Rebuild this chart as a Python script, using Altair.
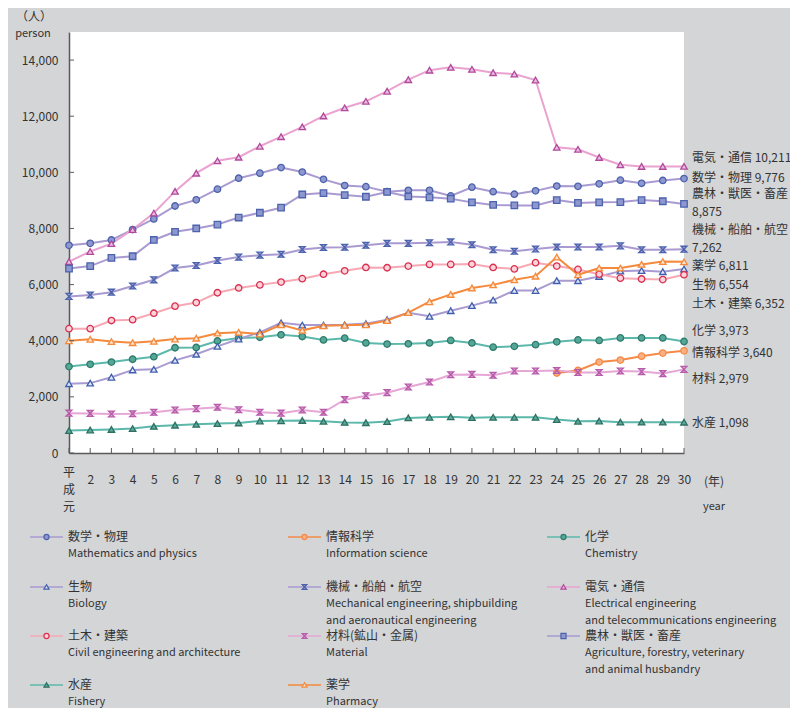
import altair as alt
import pandas as pd

# ---------------- data ----------------
years = list(range(1, 31))
series = ["数学・物理", "情報科学", "化学", "生物", "機械・船舶・航空", "電気・通信",
          "土木・建築", "材料", "農林・獣医・畜産", "水産", "薬学"]

v_math = [7400, 7470, 7590, 7960, 8340, 8800, 9020, 9400, 9790, 9970, 10170, 10010, 9750, 9530, 9490,
          9310, 9360, 9360, 9160, 9470, 9310, 9220, 9340, 9510, 9500, 9590, 9720, 9610, 9710, 9776]
v_info_years = list(range(24, 31))
v_info = [2850, 2940, 3240, 3310, 3450, 3560, 3640]
v_chem = [3080, 3160, 3240, 3340, 3430, 3750, 3760, 3990, 4100, 4120, 4210, 4150, 4030, 4090, 3920,
          3880, 3890, 3920, 4010, 3920, 3770, 3800, 3860, 3960, 4030, 4010, 4100, 4100, 4100, 3973]
v_bio = [2470, 2490, 2700, 2960, 2980, 3300, 3520, 3800, 4060, 4300, 4640, 4560, 4560, 4570, 4610,
         4750, 5000, 4870, 5070, 5250, 5450, 5790, 5790, 6140, 6140, 6290, 6480, 6500, 6460, 6554]
v_mech = [5580, 5630, 5730, 5950, 6170, 6590, 6680, 6860, 6980, 7050, 7080, 7250, 7320, 7330, 7400,
          7470, 7470, 7490, 7520, 7420, 7240, 7190, 7270, 7340, 7340, 7340, 7380, 7240, 7240, 7262]
v_elec = [6820, 7180, 7460, 7960, 8550, 9320, 9970, 10410, 10540, 10930, 11270, 11620, 12010, 12300, 12530,
          12890, 13300, 13640, 13740, 13670, 13550, 13500, 13290, 10890, 10820, 10530, 10270, 10210, 10210, 10211]
v_civil = [4430, 4430, 4720, 4750, 4980, 5230, 5360, 5710, 5880, 5990, 6090, 6210, 6370, 6490, 6610,
           6600, 6660, 6720, 6720, 6730, 6610, 6560, 6780, 6660, 6540, 6370, 6230, 6200, 6180, 6352]
v_mat = [1420, 1410, 1390, 1400, 1450, 1530, 1580, 1630, 1540, 1450, 1420, 1530, 1450, 1900, 2040,
         2150, 2350, 2530, 2790, 2800, 2770, 2920, 2920, 2940, 2870, 2870, 2920, 2900, 2830, 2979]
v_agri = [6570, 6660, 6950, 7010, 7590, 7880, 8000, 8140, 8390, 8560, 8740, 9210, 9260, 9190, 9130,
          9300, 9140, 9110, 9060, 8930, 8840, 8820, 8820, 9010, 8910, 8930, 8940, 9010, 8970, 8875]
v_fish = [800, 820, 840, 870, 950, 990, 1020, 1050, 1070, 1140, 1150, 1160, 1130, 1090, 1080,
          1120, 1250, 1270, 1290, 1260, 1270, 1270, 1270, 1190, 1130, 1140, 1100, 1100, 1100, 1098]
v_pharm = [4000, 4050, 3970, 3930, 3980, 4060, 4090, 4270, 4300, 4240, 4570, 4370, 4530, 4550, 4570,
           4720, 5000, 5390, 5650, 5880, 5990, 6170, 6300, 6980, 6350, 6590, 6590, 6720, 6820, 6811]

series_years = {s: years for s in series}
series_years["情報科学"] = v_info_years
series_values = {
    "数学・物理": v_math, "情報科学": v_info, "化学": v_chem, "生物": v_bio,
    "機械・船舶・航空": v_mech, "電気・通信": v_elec, "土木・建築": v_civil, "材料": v_mat,
    "農林・獣医・畜産": v_agri, "水産": v_fish, "薬学": v_pharm,
}

legend_jp = ["数学・物理", "情報科学", "化学", "生物", "機械・船舶・航空", "電気・通信",
             "土木・建築", "材料(鉱山・金属)", "農林・獣医・畜産", "水産", "薬学"]
legend_en = [["Mathematics and physics"], ["Information science"], ["Chemistry"], ["Biology"],
             ["Mechanical engineering, shipbuilding", "and aeronautical engineering"],
             ["Electrical engineering", "and telecommunications engineering"],
             ["Civil engineering and architecture"], ["Material"],
             ["Agriculture, forestry, veterinary", "and animal husbandry"], ["Fishery"], ["Pharmacy"]]

y_ticks = list(range(0, 15000, 2000))
first_year_label = ["平", "成", "元"]

# ---------------- styles ----------------
line_colors = ["#a99bd2", "#f58a48", "#5cb8ab", "#a99bd2", "#a99bd2", "#eaa2d0",
               "#f6a9b4", "#e6a6d6", "#a99bd2", "#5cb8ab", "#f5893c"]
stroke_colors = ["#4b62ad", "#f58a48", "#2f7b6d", "#3f5fae", "#4b62ad", "#b2499c",
                 "#d9304f", "#b75bab", "#4b62ad", "#2f6f63", "#f5893c"]
fill_colors = ["#8f97cf", "#f9b184", "#55a897", "#e3e6f5", "#9aa3d6", "#e7bfe0",
               "#fbd3da", "#dca7d5", "#8f97cf", "#5aa99b", "#fde3cc"]
hourglass = "M-0.9,-0.9L0.9,-0.9L0,0L0.9,0.9L-0.9,0.9L0,0Z"
shapes = ["circle", "circle", "circle", "triangle-up", hourglass, "triangle-up",
          "circle", hourglass, "square", "triangle-up", "triangle-up"]

FONT = "Noto Sans CJK JP"
NUMFONT = "Liberation Sans Narrow, Noto Sans CJK JP"
TEXT = "#333333"
AXIS = "#5a5a5a"
BG = "#d4d5d7"

W, H = 615, 421
PAD = {"left": 61, "top": 24, "right": 106, "bottom": 255}

# ---------------- tables ----------------
rows = []
for s in series:
    for yr, v in zip(series_years[s], series_values[s]):
        rows.append({"series": s, "year": yr, "value": v})
df = pd.DataFrame(rows)

xscale = alt.Scale(domain=[1, 30], nice=False, zero=False)
yscale = alt.Scale(domain=[0, 15000], nice=False, zero=True)
color_sc = alt.Scale(domain=series, range=line_colors)
stroke_sc = alt.Scale(domain=series, range=stroke_colors)
fill_sc = alt.Scale(domain=series, range=fill_colors)
shape_sc = alt.Scale(domain=series, range=shapes)

xaxis = alt.Axis(values=years, labelExpr="datum.value == 1 ? '' : datum.label",
                 ticks=False, grid=False, domainColor=AXIS, domainWidth=1.5,
                 labelFont=NUMFONT, labelFontSize=12, labelColor=TEXT,
                 labelPadding=21, labelOverlap=False, labelFlush=False,
                 labelAngle=0, title=None)
yaxis = alt.Axis(values=y_ticks, format=",d", ticks=False, grid=False,
                 domainColor=AXIS, domainWidth=1.5, labelFont=FONT,
                 labelFontSize=12, labelColor=TEXT, labelPadding=11, title=None)

# right-hand labels (layout positions in pixels, relative to plot origin)
label_px = {"電気・通信": [126], "数学・物理": [146], "農林・獣医・畜産": [162, 180],
            "機械・船舶・航空": [198, 216], "薬学": [234], "生物": [253], "土木・建築": [272],
            "化学": [299], "情報科学": [321], "材料": [347], "水産": [391]}
rl = []
for s in series:
    last = series_values[s][-1]
    pys = label_px[s]
    if len(pys) == 1:
        rl.append({"text": f"{s} {last:,}", "py": pys[0]})
    else:
        rl.append({"text": s, "py": pys[0]})
        rl.append({"text": f"{last:,}", "py": pys[1]})
rl_df = pd.DataFrame(rl)

# legend layout
col_x = [-39, 219, 478]
row_y = [505, 555, 604, 653]
leg_sym, leg_jp, leg_en = [], [], []
for i, s in enumerate(series):
    r, c = divmod(i, 3)
    x0, y0 = col_x[c], row_y[r]
    leg_sym.append({"series": s, "lx": x0, "lx2": x0 + 33, "sx": x0 + 16.5, "ly": y0})
    leg_jp.append({"text": legend_jp[i], "px": x0 + 38, "py": y0})
    for k, t in enumerate(legend_en[i]):
        leg_en.append({"text": t, "px": x0 + 38, "py": y0 + 17 * (k + 1)})
leg_sym = pd.DataFrame(leg_sym)
leg_jp = pd.DataFrame(leg_jp)
leg_en = pd.DataFrame(leg_en)

# ---------------- layers ----------------
X = alt.X("year:Q", scale=xscale, axis=xaxis)
Y = alt.Y("value:Q", scale=yscale, axis=yaxis)

base = alt.Chart(df)
lines = base.mark_line(strokeWidth=2).encode(
    x=X, y=Y,
    color=alt.Color("series:N", scale=color_sc, legend=None),
    order=alt.Order("year:Q"),
)
points = base.mark_point(filled=True, size=42, strokeWidth=1.3, opacity=1).encode(
    x=X, y=Y,
    shape=alt.Shape("series:N", scale=shape_sc, legend=None),
    fill=alt.Fill("series:N", scale=fill_sc, legend=None),
    stroke=alt.Stroke("series:N", scale=stroke_sc, legend=None),
)

xticks = alt.Chart(pd.DataFrame({"year": years})).mark_rule(color=AXIS, strokeWidth=1).encode(
    x=X, y=alt.value(H), y2=alt.value(H - 5))
yticks = alt.Chart(pd.DataFrame({"value": y_ticks})).mark_rule(color=AXIS, strokeWidth=1).encode(
    y=Y, x=alt.value(0), x2=alt.value(5))

first_lbl = alt.Chart(pd.DataFrame({"year": [1]})).mark_text(
    text=first_year_label, lineHeight=17, baseline="middle", align="center",
    font=FONT, fontSize=12, color=TEXT).encode(x=X, y=alt.value(441))

right_labels = alt.Chart(rl_df).mark_text(
    align="left", baseline="middle", font=FONT, fontSize=12, color=TEXT).encode(
    x=alt.value(623), y=alt.Y("py:Q", scale=None), text="text:N")

titles_df = pd.DataFrame([
    {"text": "（人）", "px": -35, "py": -15, "fs": 12},
    {"text": "person", "px": -36, "py": 2, "fs": 11},
    {"text": "(年)", "px": 645, "py": 450, "fs": 12},
    {"text": "year", "px": 645, "py": 475, "fs": 11},
])
titles = alt.Chart(titles_df).mark_text(
    align="center", baseline="middle", font=FONT, color=TEXT).encode(
    x=alt.X("px:Q", scale=None), y=alt.Y("py:Q", scale=None),
    text="text:N", size=alt.Size("fs:Q", scale=None, legend=None))

leg_lines = alt.Chart(leg_sym).mark_rule(strokeWidth=1.7).encode(
    x=alt.X("lx:Q", scale=None), x2="lx2:Q",
    y=alt.Y("ly:Q", scale=None),
    color=alt.Color("series:N", scale=color_sc, legend=None))
leg_pts = alt.Chart(leg_sym).mark_point(filled=True, size=26, strokeWidth=1.2, opacity=1).encode(
    x=alt.X("sx:Q", scale=None), y=alt.Y("ly:Q", scale=None),
    shape=alt.Shape("series:N", scale=shape_sc, legend=None),
    fill=alt.Fill("series:N", scale=fill_sc, legend=None),
    stroke=alt.Stroke("series:N", scale=stroke_sc, legend=None))
leg_jp_t = alt.Chart(leg_jp).mark_text(
    align="left", baseline="middle", font=FONT, fontSize=12, color=TEXT).encode(
    x=alt.X("px:Q", scale=None), y=alt.Y("py:Q", scale=None), text="text:N")
leg_en_t = alt.Chart(leg_en).mark_text(
    align="left", baseline="middle", font=FONT, fontSize=11, color=TEXT).encode(
    x=alt.X("px:Q", scale=None), y=alt.Y("py:Q", scale=None), text="text:N")

chart = alt.layer(
    lines, points, xticks, yticks, first_lbl, right_labels, titles,
    leg_lines, leg_pts, leg_jp_t, leg_en_t,
).properties(
    width=W, height=H, padding=PAD,
    autosize=alt.AutoSizeParams(type="none"),
    background=BG,
).configure_view(fill="white", strokeWidth=0)

chart.save("out.html", embed_options={"renderer": "svg", "actions": False})
